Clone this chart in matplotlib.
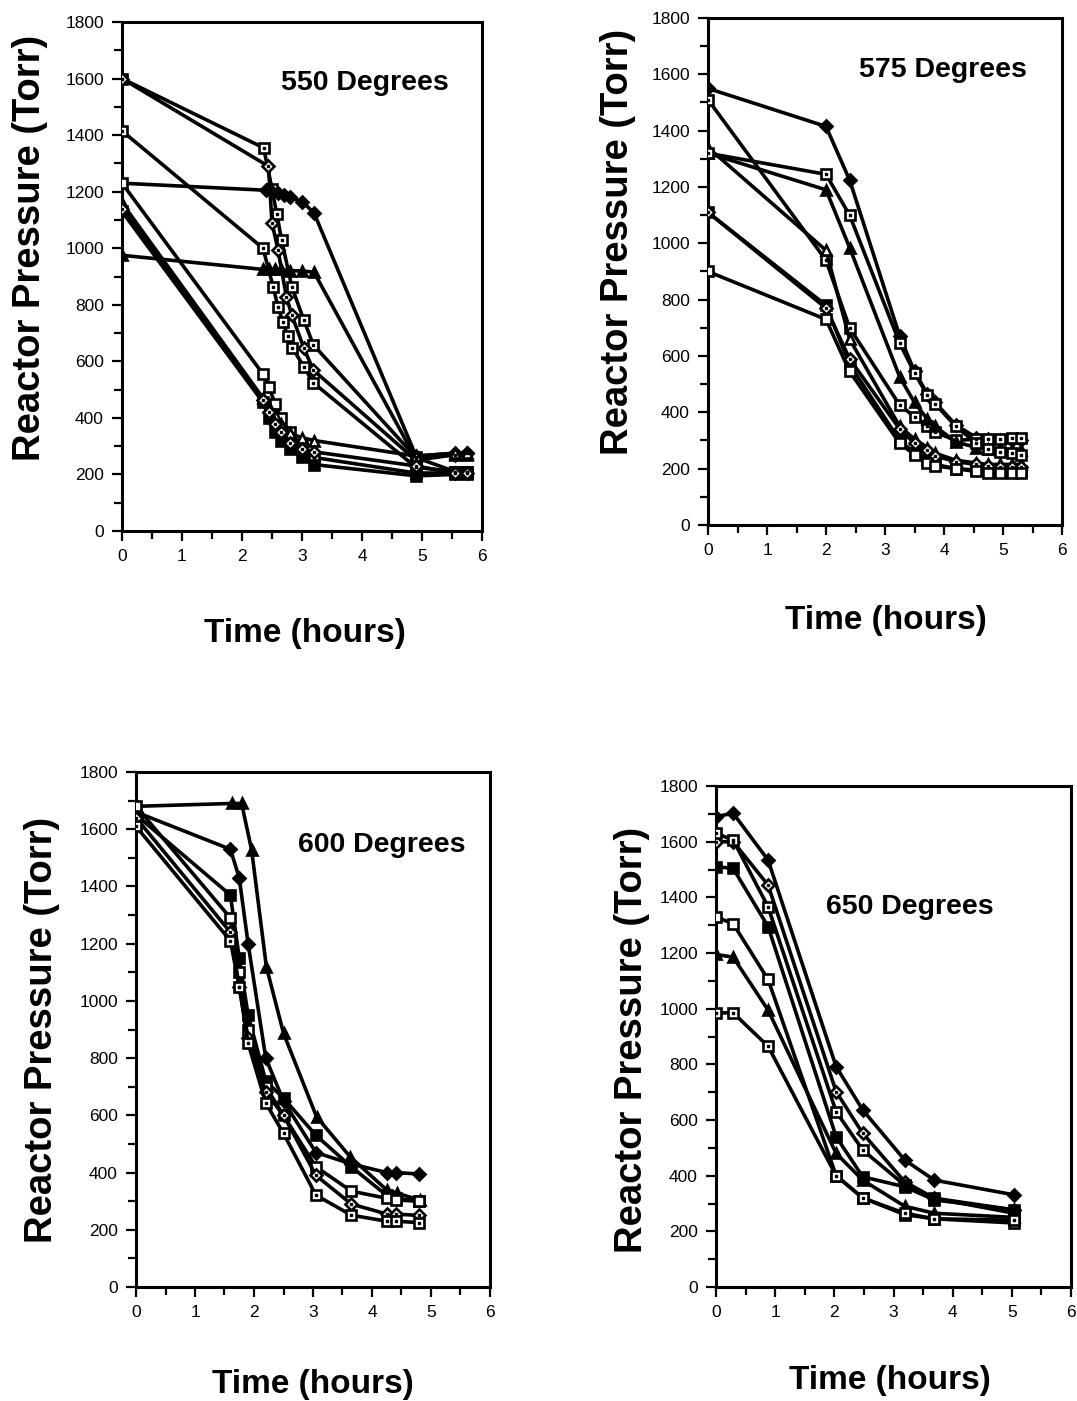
import matplotlib
matplotlib.use("Agg")
import matplotlib.pyplot as plt
from matplotlib.ticker import MultipleLocator

plt.rcParams['font.family'] = ['Liberation Sans', 'DejaVu Sans']

# ---------------- data: 550 Degrees ----------------
T550_a = [0, 2.36, 2.5, 2.58, 2.66, 2.83, 3.03, 3.19, 4.9, 5.55, 5.75]
P550_a = [1600, 1355, 1210, 1120, 1029, 864, 746, 658, 260, 210, 210]
T550_b = [0, 2.44, 2.5, 2.6, 2.74, 2.83, 3.03, 3.19, 4.9, 5.55, 5.75]
P550_b = [1600, 1290, 1090, 994, 828, 764, 647, 569, 250, 270, 275]
T550_c = [0, 2.35, 2.52, 2.6, 2.68, 2.76, 2.84, 3.03, 3.19, 4.9, 5.55, 5.75]
P550_c = [1415, 1000, 863, 792, 740, 690, 648, 581, 524, 225, 210, 210]
T550_d = [0, 2.4, 2.5, 2.6, 2.7, 2.8, 3.0, 3.2, 4.9, 5.55, 5.75]
P550_d = [1230, 1205, 1200, 1195, 1188, 1180, 1165, 1125, 265, 275, 275]
T550_e = [0, 2.35, 2.45, 2.55, 2.65, 2.8, 3.0, 3.2, 4.9, 5.55, 5.75]
P550_e = [1230, 555, 510, 450, 400, 350, 300, 260, 205, 205, 205]
P550_f = [975, 925, 925, 925, 925, 920, 920, 915, 255, 270, 270]
P550_g = [1160, 470, 440, 410, 380, 345, 330, 320, 265, 275, 275]
P550_h = [1130, 455, 400, 350, 320, 290, 260, 235, 195, 200, 200]
P550_i = [1140, 465, 420, 380, 350, 310, 290, 280, 230, 205, 205]

# ---------------- data: 575 Degrees ----------------
T575 = [0, 2.0, 2.4, 3.25, 3.5, 3.72, 3.85, 4.2, 4.55, 4.75, 4.95, 5.15, 5.3]
P575_a = [1550, 1415, 1225, 670, 545, 465, 435, 355, 310, 305, 300, 300, 300]
P575_b = [1510, 940, 700, 425, 385, 350, 330, 300, 305, 305, 305, 310, 310]
P575_c = [1340, 975, 660, 350, 305, 275, 255, 230, 220, 215, 215, 215, 215]
P575_d = [1320, 1190, 985, 525, 435, 375, 350, 295, 275, 270, 265, 265, 265]
P575_e = [1320, 1245, 1100, 645, 540, 460, 430, 350, 290, 270, 260, 255, 250]
P575_f = [1110, 780, 570, 300, 255, 230, 215, 200, 195, 190, 190, 190, 190]
P575_g = [1110, 770, 590, 340, 290, 265, 245, 225, 215, 210, 205, 205, 205]
P575_h = [900, 730, 545, 290, 250, 220, 210, 200, 190, 185, 185, 185, 185]

# ---------------- data: 600 Degrees ----------------
T600_a = [0, 1.62, 1.79, 1.96, 2.21, 2.5, 3.06, 3.63, 4.25, 4.42, 4.81]
P600_a = [1680, 1690, 1690, 1527, 1119, 887, 595, 455, 339, 328, 304]
T600 = [0, 1.6, 1.75, 1.9, 2.2, 2.5, 3.05, 3.65, 4.25, 4.4, 4.8]
P600_b = [1660, 1530, 1430, 1200, 800, 650, 470, 430, 400, 400, 395]
P600_c = [1650, 1370, 1150, 950, 720, 660, 530, 420, 320, 310, 300]
P600_d = [1680, 1290, 1100, 900, 700, 600, 420, 335, 310, 304, 300]
P600_e = [1640, 1240, 1050, 870, 680, 600, 390, 290, 255, 255, 250]
P600_f = [1610, 1210, 1050, 852, 643, 537, 321, 251, 230, 230, 225]

# ---------------- data: 650 Degrees ----------------
T650 = [0, 0.29, 0.88, 2.03, 2.48, 3.19, 3.69, 5.04]
P650_a = [1690, 1702, 1534, 792, 636, 456, 384, 331]
P650_b = [1600, 1600, 1444, 702, 552, 378, 319, 277]
P650_c = [1630, 1606, 1366, 630, 492, 366, 319, 265]
P650_d = [1510, 1504, 1295, 540, 396, 360, 313, 277]
P650_e = [1330, 1305, 1105, 400, 320, 260, 245, 230]
P650_f = [1195, 1185, 995, 480, 384, 290, 265, 250]
P650_g = [985, 985, 865, 400, 320, 265, 245, 240]

X_TICKS = [0, 1, 2, 3, 4, 5, 6]
Y_TICKS = [0, 200, 400, 600, 800, 1000, 1200, 1400, 1600, 1800]
TITLES = ["550 Degrees", "575 Degrees", "600 Degrees", "650 Degrees"]
XLABEL = "Time (hours)"
YLABEL = "Reactor Pressure (Torr)"

W, H = 1077, 1401
fig = plt.figure(figsize=(W / 100, H / 100), dpi=100)


def make_axes(l, r, top, bot):
    ax = fig.add_axes([l / W, 1 - bot / H, (r - l) / W, (bot - top) / H])
    ax.set_xlim(0, 6)
    ax.set_ylim(0, 1800)
    ax.set_xticks(X_TICKS)
    ax.set_yticks(Y_TICKS)
    ax.xaxis.set_minor_locator(MultipleLocator(0.5))
    ax.yaxis.set_minor_locator(MultipleLocator(100))
    ax.tick_params(which='both', direction='out', width=1.6, labelsize=12.5, pad=6)
    ax.tick_params(which='major', length=7)
    ax.tick_params(which='minor', length=6)
    for s in ax.spines.values():
        s.set_linewidth(2.2)
    return ax


def series(ax, t, p, kind):
    filled = kind in ('fs', 'fd', 'ft')
    mk = {'fs': 's', 'os': 's', 'ds': 's', 'fd': 'D', 'od': 'D', 'ft': '^', 'ot': '^'}[kind]
    ms = 7.5 if mk != 'D' else 6.3
    ax.plot(t, p, color='black', lw=2.6, marker=mk, ms=ms,
            mfc='black' if filled else 'white', mec='black', mew=1.9, zorder=3)
    if kind in ('ds', 'od'):
        ax.plot(t, p, ls='none', marker='s', ms=1.8, color='black', zorder=4)


ax1 = make_axes(122, 482, 22, 531)
series(ax1, T550_a, P550_a, 'ds')
series(ax1, T550_b, P550_b, 'od')
series(ax1, T550_c, P550_c, 'ds')
series(ax1, T550_d, P550_d, 'fd')
series(ax1, T550_e, P550_e, 'os')
series(ax1, T550_e, P550_f, 'ft')
series(ax1, T550_e, P550_g, 'ot')
series(ax1, T550_e, P550_h, 'fs')
series(ax1, T550_e, P550_i, 'od')

ax2 = make_axes(708, 1062, 18, 525)
series(ax2, T575, P575_a, 'fd')
series(ax2, T575, P575_b, 'ds')
series(ax2, T575, P575_c, 'ot')
series(ax2, T575, P575_d, 'ft')
series(ax2, T575, P575_e, 'ds')
series(ax2, T575, P575_f, 'fs')
series(ax2, T575, P575_g, 'od')
series(ax2, T575, P575_h, 'os')

ax3 = make_axes(136, 490, 772, 1287)
series(ax3, T600_a, P600_a, 'ft')
series(ax3, T600, P600_b, 'fd')
series(ax3, T600, P600_c, 'fs')
series(ax3, T600, P600_d, 'os')
series(ax3, T600, P600_e, 'od')
series(ax3, T600, P600_f, 'ds')

ax4 = make_axes(716, 1071, 786, 1287)
series(ax4, T650, P650_a, 'fd')
series(ax4, T650, P650_b, 'od')
series(ax4, T650, P650_c, 'ds')
series(ax4, T650, P650_d, 'fs')
series(ax4, T650, P650_e, 'os')
series(ax4, T650, P650_f, 'ft')
series(ax4, T650, P650_g, 'ds')


def ftext(x, y, s, size, rot=0):
    fig.text(x / W, 1 - y / H, s, ha='center', va='center', fontsize=size,
             fontweight='bold', rotation=rot)


title_pos = [(365, 83), (943, 70), (382, 845), (910, 907)]
for (x, y), s in zip(title_pos, TITLES):
    ftext(x, y, s, 20.5)

xlab_pos = [(305, 633), (886, 620), (313, 1385), (890, 1380)]
for x, y in xlab_pos:
    ftext(x, y, XLABEL, 24)

ylab_pos = [(30, 248), (618, 242), (42, 1030), (632, 1040)]
for x, y in ylab_pos:
    ftext(x, y, YLABEL, 27.5, rot=90)

fig.savefig("out.png", dpi=100, facecolor='white')
